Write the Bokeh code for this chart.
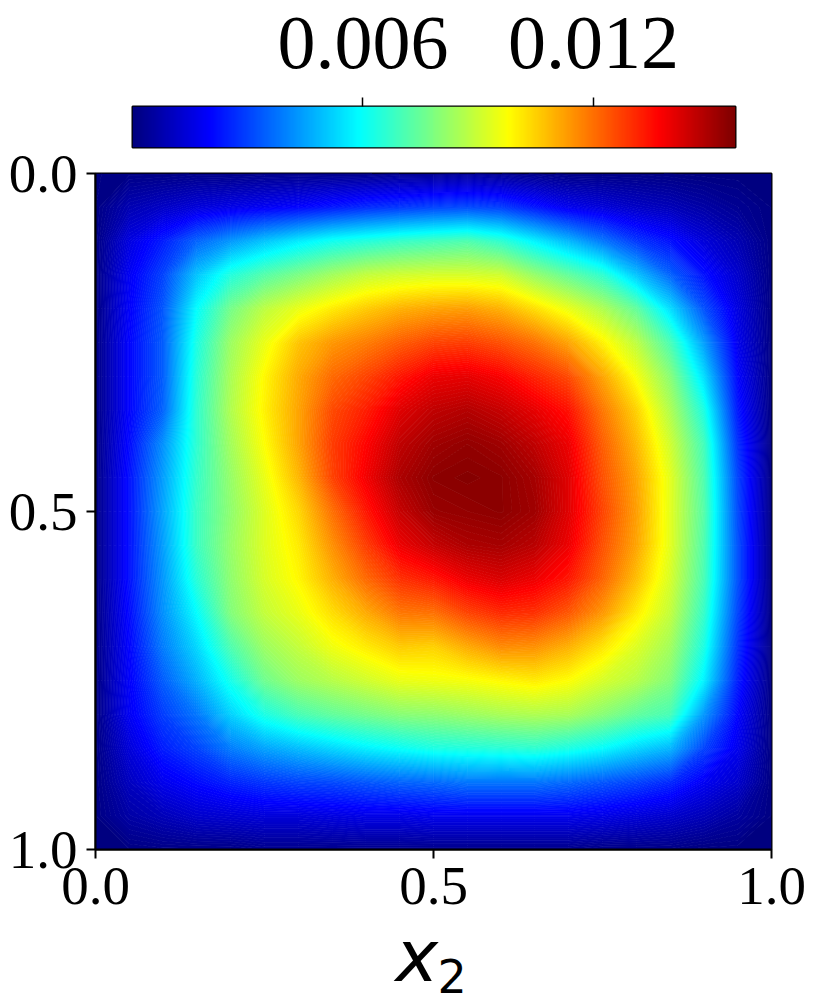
import numpy as np
from bokeh.plotting import figure
from bokeh.layouts import column
from bokeh.models import LinearColorMapper, FixedTicker, Label
from bokeh.embed import file_html
from bokeh.resources import INLINE

# Field values (in units of 0.001), one list per column of the x2 grid, top (x1=0) to bottom (x1=1)
c00 = [.05] * 21
c01 = [.1,.8,1.5,1.8,1.9,2.0,2.0,2.0,2.1,2.2,2.2,2.2,2.2,2.1,2.0,1.9,1.8,1.4,1.0,.6,.05]
c02 = [.1,1.1,2.4,3.0,3.3,3.4,3.4,3.5,4.2,4.4,4.5,4.4,4.3,4.2,3.9,3.4,2.9,2.4,1.7,.9,.1]
c03 = [.15,1.4,3.5,5.0,5.9,6.3,6.5,6.6,6.6,6.7,6.8,6.8,6.5,5.9,5.3,4.7,3.8,3.0,2.1,1.2,.1]
c04 = [.15,1.6,4.3,6.4,7.7,8.3,8.5,8.6,8.4,8.2,8.1,8.2,8.1,7.9,7.1,6.2,5.2,3.9,2.5,1.3,.1]
c05 = [.2,1.8,5.0,7.2,8.8,9.5,9.9,10.0,9.8,9.5,9.3,9.3,9.2,8.9,8.3,7.6,6.3,4.5,2.8,1.4,.2]
c06 = [.2,2.0,5.6,7.8,9.5,10.7,11.1,11.2,11.2,10.9,10.4,10.1,9.9,9.5,8.9,8.3,7.0,4.9,3.0,1.4,.2]
c07 = [.2,2.3,6.1,8.4,10.1,11.4,12.1,12.6,12.8,12.7,12.0,11.5,11.0,10.3,9.6,8.7,7.4,5.3,3.1,1.5,.2]
c08 = [.2,2.6,6.4,8.9,10.6,11.8,12.7,13.3,13.7,13.9,13.4,12.8,12.1,11.1,10.1,9.1,7.7,5.7,3.3,1.6,.2]
c09 = [.3,2.8,6.7,9.1,11.0,12.3,13.4,14.2,14.7,15.0,14.6,14.0,13.0,11.9,10.6,9.5,8.0,6.0,3.5,1.6,.2]
c10 = [.3,3.0,6.9,9.2,11.2,12.7,14.0,14.7,15.2,15.5,15.3,14.6,13.4,12.0,10.5,9.6,8.1,6.3,3.6,1.7,.2]
c11 = [.4,3.1,7.1,9.2,11.3,12.8,14.1,14.9,15.4,15.6,15.4,15.0,14.0,12.7,11.1,9.7,8.3,6.4,3.8,1.7,.2]
c12 = [.3,2.9,6.6,9.1,11.0,12.5,13.8,14.6,15.2,15.5,15.5,15.1,14.3,13.1,11.6,9.9,8.5,6.5,3.8,1.7,.2]
c13 = [.2,2.3,5.7,8.2,10.3,12.0,13.2,14.1,14.7,15.1,15.2,14.8,14.0,13.0,11.5,10.1,8.6,6.6,3.8,1.7,.2]
c14 = [.1,1.7,4.8,7.4,9.5,11.2,12.6,13.5,14.0,14.2,14.2,14.0,13.4,12.4,11.0,9.8,8.5,6.3,3.6,1.7,.2]
c15 = [.1,1.4,3.8,6.6,8.6,10.0,11.2,11.9,12.3,12.5,12.7,12.5,12.2,11.4,10.2,9.2,8.0,5.9,3.3,1.6,.1]
c16 = [.1,1.1,2.8,5.0,7.4,8.8,9.7,10.5,10.9,11.2,11.3,11.2,10.8,10.1,9.3,8.7,7.4,5.3,3.0,1.4,.1]
c17 = [.05,.9,2.2,3.5,5.4,7.0,8.0,8.6,9.1,9.4,9.4,9.4,9.2,8.9,8.4,7.9,7.0,4.8,2.6,1.2,.1]
c18 = [0,.6,1.4,2.2,3.2,4.4,5.4,6.3,6.9,7.1,7.2,7.1,7.0,6.7,6.3,5.7,4.3,3.0,1.8,.9,0]
c19 = [0,.3,.8,1.2,1.5,1.7,2.0,2.3,2.7,3.0,3.1,3.2,3.2,3.0,2.7,2.4,2.0,1.7,1.2,.5,0]
c20 = [.05] * 21
field_columns = [c00,c01,c02,c03,c04,c05,c06,c07,c08,c09,c10,c11,c12,c13,c14,c15,c16,c17,c18,c19,c20]

axis_ticks = [0, 0.5, 1]
axis_labels = {0: "0.0", 0.5: "0.5", 1: "1.0"}
bar_ticks = [0.006, 0.012]
bar_labels = {0.006: "0.006", 0.012: "0.012"}
v_low, v_high = 0.0, 0.0157

field = np.array(field_columns).T * 1e-3
grid = np.linspace(0, 1, field.shape[0])

def jet(t):
    t = np.clip(np.asarray(t, dtype=float), 0, 1)
    r = np.clip(np.minimum(4*t - 1.5, -4*t + 4.5), 0, 1)
    g = np.clip(np.minimum(4*t - 0.5, -4*t + 3.5), 0, 1)
    b = np.clip(np.minimum(4*t + 0.5, -4*t + 2.5), 0, 1)
    return ["#%02x%02x%02x" % (int(a*255), int(c*255), int(d*255)) for a, c, d in zip(r, g, b)]

mapper = LinearColorMapper(palette=jet(np.linspace(0, 1, 256)), low=v_low, high=v_high)
SERIF = "Liberation Serif"

# colour bar
cb = figure(width=815, height=149, x_range=(v_low, v_high), y_range=(0, 1),
            output_backend="svg", toolbar_location=None, x_axis_location="above",
            min_border_left=132, min_border_right=80, min_border_top=106, min_border_bottom=2,
            margin=(0, 0, -14, 0))
cb.frame_align = False
cb.image(image=[np.linspace(v_low, v_high, 604).reshape(1, -1)], x=v_low, y=0,
         dw=v_high - v_low, dh=1, color_mapper=mapper)
cb.grid.visible = False
cb.yaxis.visible = False
ax = cb.xaxis[0]
ax.ticker = FixedTicker(ticks=bar_ticks)
ax.major_label_overrides = bar_labels
ax.major_label_text_font = SERIF
ax.major_label_text_font_size = "76px"
ax.major_label_text_color = "black"
ax.major_tick_out = 9
ax.major_tick_in = 0
ax.major_tick_line_width = 1.5
ax.major_tick_line_color = "black"
ax.minor_tick_line_color = None
ax.axis_line_color = None
ax.major_label_standoff = 30
cb.outline_line_color = "black"
cb.outline_line_width = 2
cb.outline_line_alpha = 1

# heat map
p = figure(width=815, height=804, x_range=(0, 1), y_range=(1, 0),
           output_backend="svg", toolbar_location=None,
           min_border_left=95, min_border_right=44, min_border_top=38, min_border_bottom=90,
           margin=(0, 0, -34, 0))
p.frame_align = False
p.border_fill_color = None
p.background_fill_color = None
levels = np.linspace(-1e-4, 0.0158, 201)
mids = (levels[:-1] + levels[1:]) / 2
p.contour(grid, grid, field, levels,
          fill_color=jet((mids - v_low) / (v_high - v_low)),
          line_color=jet((levels - v_low) / (v_high - v_low)), line_width=1)
p.grid.visible = False
for a in (p.xaxis[0], p.yaxis[0]):
    a.ticker = FixedTicker(ticks=axis_ticks)
    a.major_label_overrides = axis_labels
    a.major_label_text_font = SERIF
    a.major_label_text_font_size = "55px"
    a.major_label_text_color = "black"
    a.major_tick_out = 9
    a.major_tick_in = 0
    a.major_tick_line_width = 2
    a.major_tick_line_color = "black"
    a.minor_tick_line_color = None
    a.axis_line_color = "black"
    a.axis_line_width = 2
p.yaxis[0].major_label_standoff = 9
p.xaxis[0].major_label_standoff = 9
p.outline_line_color = "black"
p.outline_line_width = 2
p.outline_line_alpha = 1

# x-axis label strip
lab = figure(width=815, height=97, x_range=(0, 815), y_range=(0, 97),
             output_backend="svg", toolbar_location=None,
             min_border_left=0, min_border_right=0, min_border_top=0, min_border_bottom=0)
lab.frame_align = False
lab.border_fill_color = None
lab.background_fill_color = None
lab.axis.visible = False
lab.grid.visible = False
lab.outline_line_color = None
lab.add_layout(Label(x=395, y=47, x_units="screen", y_units="screen", text="x",
                     text_font="DejaVu Sans", text_font_style="italic", text_baseline="alphabetic",
                     text_font_size="72px", text_color="black"))
lab.add_layout(Label(x=437, y=27, x_units="screen", y_units="screen", text="2",
                     text_font="DejaVu Sans", text_baseline="alphabetic",
                     text_font_size="46px", text_color="black"))

open("out.html", "w").write(file_html(column(cb, p, lab, spacing=0), INLINE))
